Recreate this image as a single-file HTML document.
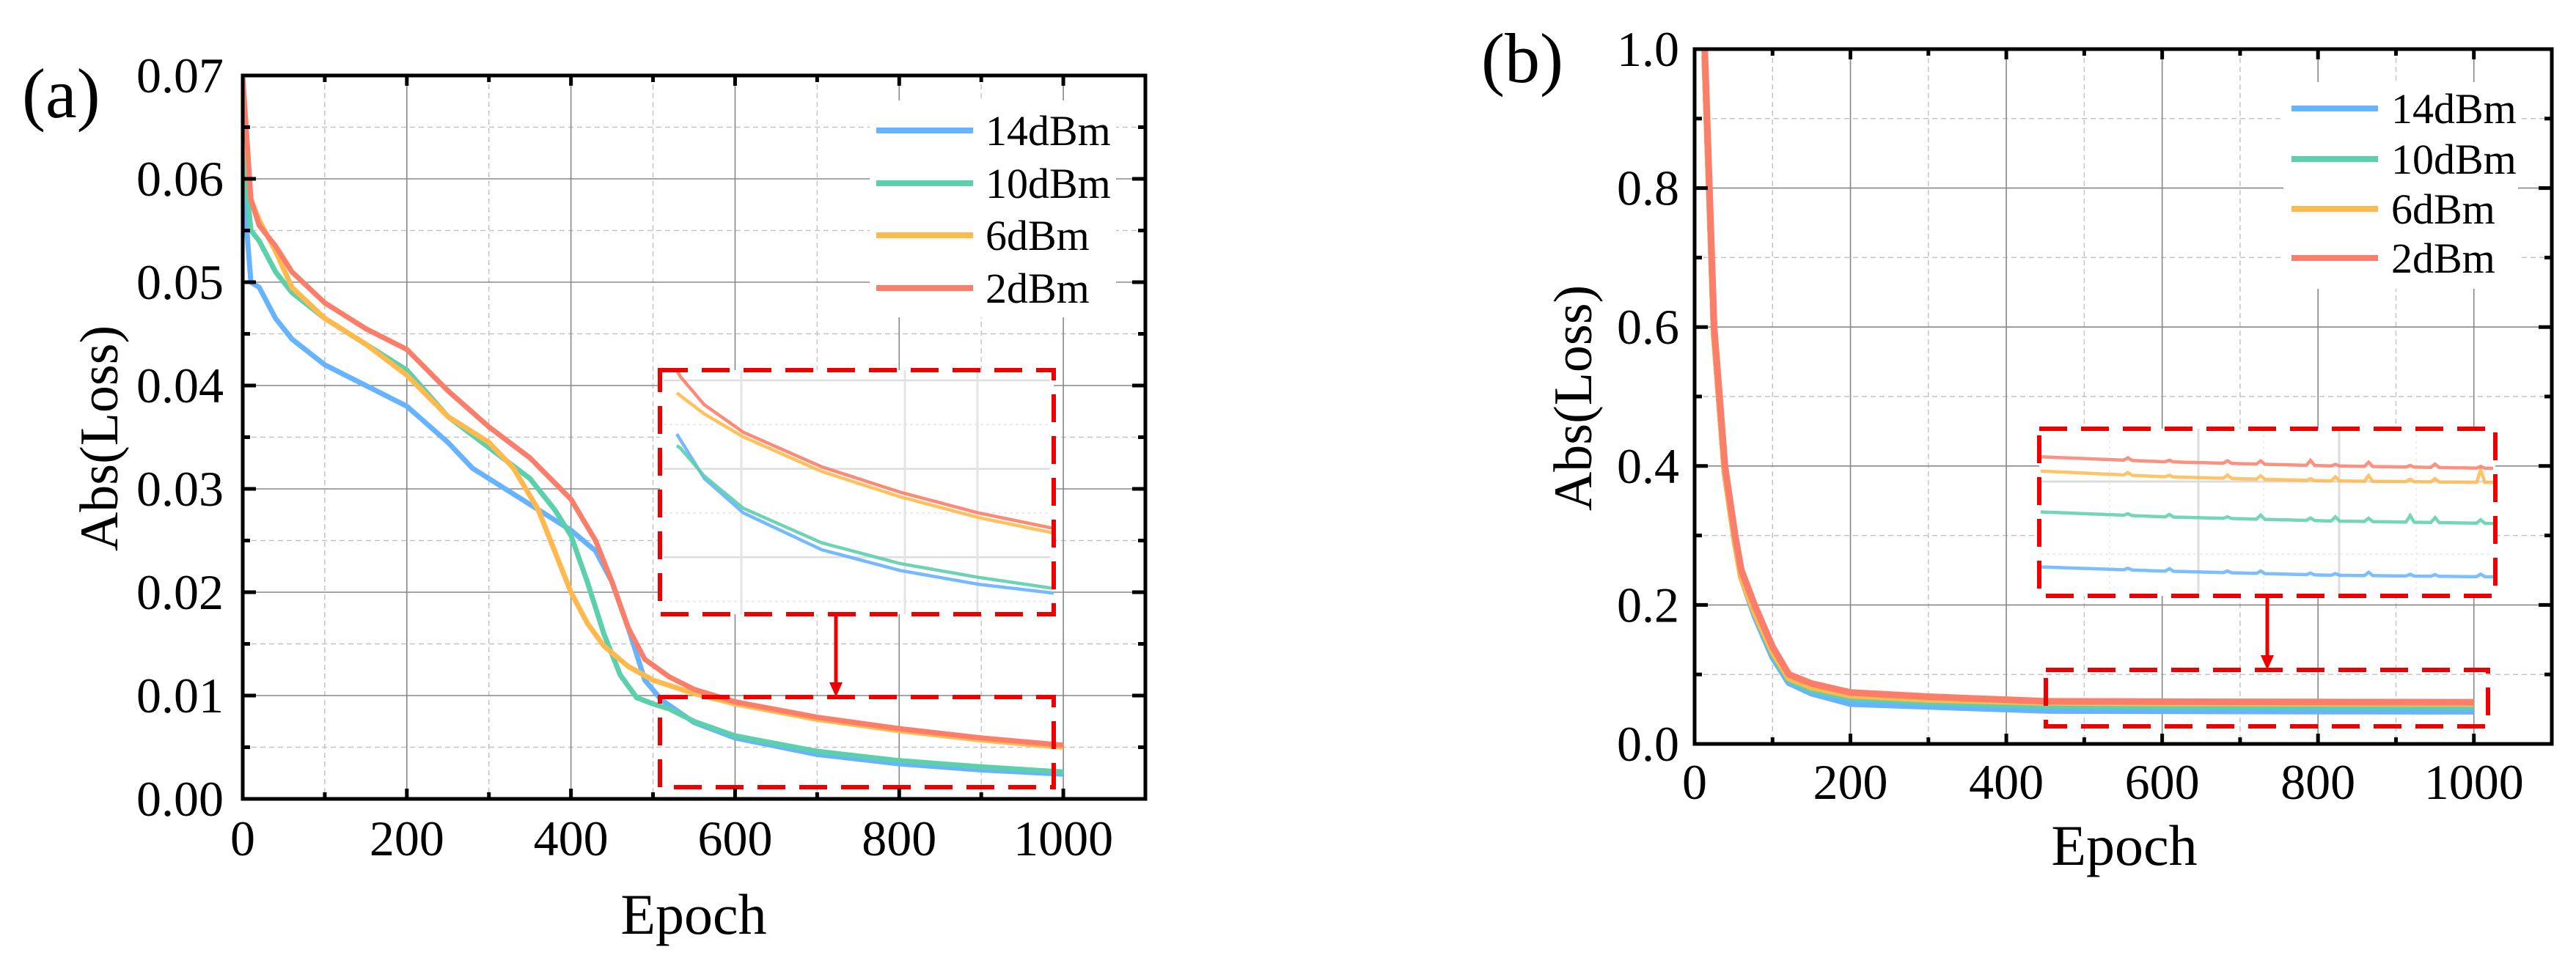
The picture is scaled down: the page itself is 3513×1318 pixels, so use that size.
<!DOCTYPE html>
<html><head><meta charset="utf-8"><style>
html,body{margin:0;padding:0;background:#fff;}
svg{display:block;font-family:"Liberation Serif",serif;}
</style></head><body>
<svg id="fig" width="3513" height="1318" viewBox="0 0 3513 1318" xmlns="http://www.w3.org/2000/svg"></svg>
<script>
// ---------- data: panel (a) ----------
const epochsA_blue = [0,5,10,20,40,60,100,150,200,250,280,300,350,400,430,450,470,490,510,550,600,700,800,900,1000];
const lossA_blue   = [0.062,0.055,0.050,0.0495,0.0465,0.0445,0.042,0.040,0.038,0.0345,0.032,0.031,0.0285,0.026,0.024,0.021,0.0165,0.0115,0.0096,0.0074,0.0059,0.0043,0.0034,0.0028,0.0024];
const epochsA_green= [0,10,20,40,60,100,150,200,250,300,350,380,400,420,440,460,480,500,520,550,600,700,800,900,1000];
const lossA_green  = [0.063,0.055,0.054,0.051,0.049,0.0465,0.044,0.0415,0.037,0.034,0.031,0.028,0.0255,0.021,0.016,0.012,0.0098,0.0092,0.0087,0.0075,0.0061,0.0046,0.0037,0.0031,0.0026];
const epochsA_orange=[0,10,20,40,60,100,150,200,250,300,330,360,380,400,420,440,470,500,550,600,700,800,900,1000];
const lossA_orange = [0.068,0.058,0.056,0.053,0.0495,0.0465,0.044,0.041,0.037,0.0345,0.032,0.028,0.024,0.020,0.017,0.0148,0.0128,0.0115,0.0102,0.0092,0.0077,0.0066,0.0057,0.0050];
const epochsA_red  = [0,10,20,40,60,100,150,200,250,300,350,400,430,450,470,490,520,550,600,700,800,900,1000];
const lossA_red    = [0.070,0.058,0.0555,0.0535,0.051,0.048,0.0455,0.0435,0.0395,0.036,0.033,0.029,0.025,0.021,0.0165,0.0135,0.0118,0.0106,0.0094,0.0079,0.0068,0.0059,0.0052];
// ---------- data: panel (b) ----------
const epochsB = [13,19,25,32,39,52,60,77,100,121,150,200,300,450,600,800,1000];
const lossB_red    = [1.0,0.8,0.6,0.5,0.4,0.3,0.25,0.2,0.14,0.10,0.087,0.074,0.068,0.0614,0.0608,0.0603,0.0600];
const lossB_orange = [0.99,0.79,0.59,0.49,0.39,0.29,0.24,0.19,0.133,0.095,0.082,0.070,0.064,0.0597,0.0590,0.0585,0.0583];
const lossB_green  = [0.99,0.79,0.59,0.49,0.39,0.29,0.24,0.19,0.130,0.092,0.078,0.066,0.060,0.0548,0.0542,0.0537,0.0534];
const lossB_blue   = [0.99,0.79,0.59,0.49,0.39,0.29,0.24,0.185,0.125,0.088,0.073,0.058,0.054,0.0482,0.0477,0.0472,0.0470];
// spikes visible in panel (b) inset: epoch, height
const spikeEpochsB = [560,610,680,720,780,810,850,900,930,985];
const spikeRed     = [0.0003,0.0002,0.0003,0.0004,0.0006,0.0002,0.0005,0.0002,0.0004,0.0002];
const spikeOrange  = [0.0003,0.0002,0.0004,0.0004,0.0002,0.0005,0.0007,0.0003,0.0004,0.0015];
const spikeGreen   = [0.0002,0.0003,0.0002,0.0005,0.0003,0.0005,0.0004,0.0008,0.0006,0.0004];
const spikeBlue    = [0.0002,0.0003,0.0002,0.0003,0.0002,0.0002,0.0004,0.0002,0.0002,0.0003];
const yTicksA = ["0.00","0.01","0.02","0.03","0.04","0.05","0.06","0.07"];
const yTicksB = ["0.0","0.2","0.4","0.6","0.8","1.0"];
const xTicks = ["0","200","400","600","800","1000"];
const legendLabels = ["14dBm","10dBm","6dBm","2dBm"];

const COL = {blue:"#66b3ff", green:"#5ccfac", orange:"#ffb94d", red:"#fa7e6a"};
const NS = "http://www.w3.org/2000/svg";
const svg = document.getElementById("fig");
function el(tag, attrs, parent){
  const e = document.createElementNS(NS, tag);
  for (const k in attrs) e.setAttribute(k, attrs[k]);
  (parent||svg).appendChild(e);
  return e;
}
function interp(xs, ys, x){
  if (x <= xs[0]) return ys[0];
  for (let i=1;i<xs.length;i++){
    if (x <= xs[i]){ const t=(x-xs[i-1])/(xs[i]-xs[i-1]); return ys[i-1]+t*(ys[i]-ys[i-1]); }
  }
  return ys[ys.length-1];
}
function pathFrom(xs, ys, sx, sy){
  let d="";
  for (let i=0;i<xs.length;i++) d += (i?"L":"M")+sx(xs[i]).toFixed(1)+","+sy(ys[i]).toFixed(1);
  return d;
}

function drawAxes(p){
  const g = el("g",{});
  
  
  const {L,R,T,B} = p;
  for (let v=p.xminor; v<p.xmax; v+=p.xminor){
    if (Math.abs(v/p.xmajor - Math.round(v/p.xmajor))<1e-6) continue;
    el("line",{x1:p.sx(v),x2:p.sx(v),y1:T,y2:B,stroke:"#c4c4c4","stroke-width":1.5,"stroke-dasharray":"7 5"},g);
  }
  for (let i=0;i<p.yn*2;i++){
    if (i%2===0) continue;
    const y = B - (B-T)*i/(p.yn*2);
    el("line",{x1:L,x2:R,y1:y,y2:y,stroke:"#c4c4c4","stroke-width":1.5,"stroke-dasharray":"7 5"},g);
  }
  for (let v=p.xmajor; v<p.xmax; v+=p.xmajor) el("line",{x1:p.sx(v),x2:p.sx(v),y1:T,y2:B,stroke:"#888","stroke-width":1.6},g);
  for (let i=1;i<p.yn;i++){ const y=B-(B-T)*i/p.yn; el("line",{x1:L,x2:R,y1:y,y2:y,stroke:"#888","stroke-width":1.6},g); }
  return g;
}
function drawFrame(p){
  const g = el("g",{});
  
  
  const {L,R,T,B} = p;
  for (let v=0; v<=p.xmax; v+=p.xmajor/2){
    const x=p.sx(v), len = (Math.abs(v/p.xmajor-Math.round(v/p.xmajor))<1e-6)?14:9;
    el("line",{x1:x,x2:x,y1:B,y2:B-len,stroke:"#000","stroke-width":5},g);
    el("line",{x1:x,x2:x,y1:T,y2:T+len,stroke:"#000","stroke-width":5},g);
  }
  for (let i=0;i<=p.yn*2;i++){
    const y=B-(B-T)*i/(p.yn*2), len=(i%2===0)?18:10;
    el("line",{x1:L,x2:L+len,y1:y,y2:y,stroke:"#000","stroke-width":5},g);
    el("line",{x1:R,x2:R-len,y1:y,y2:y,stroke:"#000","stroke-width":5},g);
  }
  el("rect",{x:L,y:T,width:R-L,height:B-T,fill:"none",stroke:"#000","stroke-width":5},g);
  xTicks.forEach((t,i)=>{
    const tx = el("text",{x:p.sx(i*200),y:p.xlabY,"text-anchor":"middle","font-size":68},g);
    tx.textContent=t;
    
    
  });
  p.yt.forEach((t,i)=>{
    const y=B-(B-T)*i/(p.yt.length-1);
    const ty = el("text",{x:p.ylabX,y:y+23,"text-anchor":"end","font-size":68},g);
    ty.textContent=t;
    
    
  });
  const xt = el("text",{x:p.xtitleX,y:p.xtitleY,"text-anchor":"middle","font-size":78},g);
  xt.textContent="Epoch";
  
  
  const yt = el("text",{x:0,y:0,"text-anchor":"middle","font-size":74,transform:`translate(${p.ytitleX},${p.ytitleY}) rotate(-90)`},g);
  yt.textContent="Abs(Loss)";
  
  
  const pl = el("text",{x:p.plX,y:p.plY,"font-size":96},g);
  pl.textContent=p.label;
  
  
}
function drawLegend(p, bx, by, bw, bh, lx1, lx2, tx, rows){
  const g = el("g",{});
  
  
  el("rect",{x:bx,y:by,width:bw,height:bh,fill:"#fff"},g);
  const cols=[COL.blue,COL.green,COL.orange,COL.red];
  legendLabels.forEach((lab,i)=>{
    const e = el("g",{},g);
    
    
    el("line",{x1:lx1,x2:lx2,y1:rows[i],y2:rows[i],stroke:cols[i],"stroke-width":8},e);
    const t = el("text",{x:tx,y:rows[i]+20,"font-size":58},e);
    t.textContent=lab;
  });
}
function dashedRect(x,y,w,h,name){
  const r = el("rect",{x:x,y:y,width:w,height:h,fill:"none",stroke:"#ee0000","stroke-width":6,"stroke-dasharray":"38 19"});
  
  
}
function arrow(x,y1,y2,name){
  const g = el("g",{});
  
  
  el("line",{x1:x,x2:x,y1:y1,y2:y2-16,stroke:"#ee0000","stroke-width":5},g);
  el("polygon",{points:`${x-9},${y2-20} ${x+9},${y2-20} ${x},${y2}`,fill:"#ee0000"},g);
}

// ---------- panel (a) ----------
const A = {name:"panel-a",L:331,R:1562,T:103,B:1090,xmax:1100,xmajor:200,xminor:100,yn:7,yt:yTicksA,
  xlabY:1167,ylabX:305,xtitleX:946,xtitleY:1274,ytitleX:160,ytitleY:598,label:"(a)",plX:30,plY:160};
A.sx = v => A.L + v*(A.R-A.L)/1100;
A.sy = v => A.B - v*(A.B-A.T)/0.07;
drawAxes(A);
const seriesA = [[epochsA_blue,lossA_blue,COL.blue,"series-14dbm"],[epochsA_green,lossA_green,COL.green,"series-10dbm"],[epochsA_orange,lossA_orange,COL.orange,"series-6dbm"],[epochsA_red,lossA_red,COL.red,"series-2dbm"]];
const clipA = el("clipPath",{id:"clipA"}); el("rect",{x:A.L,y:A.T,width:A.R-A.L,height:A.B-A.T},clipA);
seriesA.forEach(s=>{
  const p = el("path",{d:pathFrom(s[0],s[1],A.sx,A.sy),fill:"none",stroke:s[2],"stroke-width":7,"stroke-linejoin":"round","clip-path":"url(#clipA)"});
  
  
});
drawLegend(A,1186,137,336,296,1195,1327,1344,[178,250,321,393]);
const IA = {L:900,R:1437,T:505,B:838,x0:515,x1:1000,px0:923,px1:1441,y0:0.0015,y1:0.0121};
IA.sx = e => IA.px0 + (e-IA.x0)*(IA.px1-IA.px0)/(IA.x1-IA.x0);
IA.sy = v => IA.B - (v-IA.y0)*(IA.B-IA.T)/(IA.y1-IA.y0);
el("rect",{x:IA.L,y:IA.T,width:IA.R-IA.L,height:IA.B-IA.T,fill:"#fff"});
const clipIA = el("clipPath",{id:"clipIA"}); el("rect",{x:IA.L,y:IA.T,width:IA.R-IA.L,height:IA.B-IA.T},clipIA);
for (let k=0;k<9;k++){ const y=IA.T+14+k*60.3/1; if (y<IA.B) el("line",{x1:IA.L+5,x2:IA.R-5,y1:y,y2:y,stroke:k%2?"#ececec":"#dedede","stroke-width":2.5,"stroke-dasharray":k%2?"4 4":"none"}); }
[1011,1234,1333].forEach(x=>el("line",{x1:x,x2:x,y1:IA.T,y2:IA.B,stroke:"#e4e4e4","stroke-width":3}));
seriesA.forEach(s=>{
  const xs=[], ys=[];
  for (let e=IA.x0;e<=1000;e+=5){ xs.push(e); ys.push(interp(s[0],s[1],e)); }
  const p = el("path",{d:pathFrom(xs,ys,IA.sx,IA.sy),fill:"none",stroke:s[2],"stroke-width":4.5,"clip-path":"url(#clipIA)",opacity:0.9});
  
  
});
dashedRect(IA.L,IA.T,IA.R-IA.L,IA.B-IA.T,"inset-a-box");
dashedRect(900,951,537,123,"zoom-region-a");
arrow(1140,839,951,"zoom-arrow-a");
drawFrame(A);

// ---------- panel (b) ----------
const Bp = {name:"panel-b",L:2311,R:3480,T:67,B:1015,xmax:1100,xmajor:200,xminor:100,yn:5,yt:yTicksB,
  xlabY:1090,ylabX:2290,xtitleX:2897,xtitleY:1180,ytitleX:2170,ytitleY:543,label:"(b)",plX:2020,plY:112};
Bp.sx = v => Bp.L + v*(Bp.R-Bp.L)/1100;
Bp.sy = v => Bp.B - v*(Bp.B-Bp.T)/1.0;
drawAxes(Bp);
const seriesB = [[lossB_blue,COL.blue,"series-14dbm",spikeBlue],[lossB_green,COL.green,"series-10dbm",spikeGreen],[lossB_orange,COL.orange,"series-6dbm",spikeOrange],[lossB_red,COL.red,"series-2dbm",spikeRed]];
const clipB = el("clipPath",{id:"clipB"}); el("rect",{x:Bp.L,y:Bp.T,width:Bp.R-Bp.L,height:Bp.B-Bp.T},clipB);
seriesB.forEach(s=>{
  const p = el("path",{d:pathFrom(epochsB,s[0],Bp.sx,Bp.sy),fill:"none",stroke:s[1],"stroke-width":9,"stroke-linejoin":"round","clip-path":"url(#clipB)"});
  
  
});
drawLegend(Bp,3114,112,320,282,3125,3243,3261,[148,217,285,352]);
const IB = {L:2781,R:3403,T:585,B:813,x0:455,x1:1000,px0:2783,px1:3400,y0:0.04472,y1:0.06474};
IB.sx = e => IB.px0 + (e-IB.x0)*(IB.px1-IB.px0)/(IB.x1-IB.x0);
IB.sy = v => IB.B - (v-IB.y0)*(IB.B-IB.T)/(IB.y1-IB.y0);
el("rect",{x:IB.L,y:IB.T,width:IB.R-IB.L,height:IB.B-IB.T,fill:"#fff"});
[2998,3190].forEach(x=>el("line",{x1:x,x2:x,y1:IB.T,y2:IB.B,stroke:"#dcdcdc","stroke-width":3}));
[2877,3087,3295].forEach(x=>el("line",{x1:x,x2:x,y1:IB.T,y2:IB.B,stroke:"#f0f0f0","stroke-width":2,"stroke-dasharray":"4 4"}));
el("line",{x1:IB.L+2,x2:IB.R-2,y1:657,y2:657,stroke:"#dcdcdc","stroke-width":3});
el("line",{x1:IB.L+2,x2:IB.R-2,y1:756,y2:756,stroke:"#eeeeee","stroke-width":2,"stroke-dasharray":"4 4"});
seriesB.forEach(s=>{
  const xs=[], ys=[];
  for (let e=IB.x0;e<=1000;e+=5){
    let v = interp(epochsB,s[0],e);
    spikeEpochsB.forEach((se,i)=>{ if (Math.abs(e-se)<3) v += s[3][i]; });
    xs.push(e); ys.push(v);
  }
  const p = el("path",{d:pathFrom(xs,ys,IB.sx,IB.sy),fill:"none",stroke:s[1],"stroke-width":4.5,opacity:0.85});
  
  
});
dashedRect(IB.L,IB.T,IB.R-IB.L,IB.B-IB.T,"inset-b-box");
dashedRect(2790,914,603,77,"zoom-region-b");
arrow(3092,814,914,"zoom-arrow-b");
drawFrame(Bp);
</script>
</body></html>
